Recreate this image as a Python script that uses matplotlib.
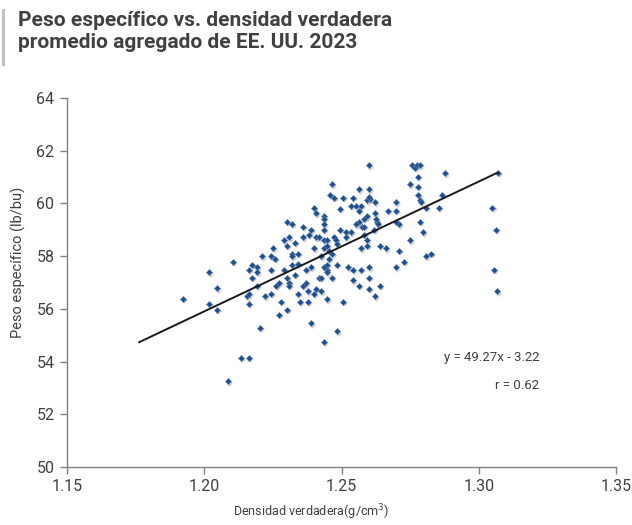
import matplotlib
matplotlib.use("Agg")
import matplotlib.pyplot as plt
from matplotlib.patches import Rectangle

FONT = ["Roboto", "DejaVu Sans"]
plt.rcParams["font.family"] = FONT

# True density (g/cm3) and test weight (lb/bu) for the 2023 aggregate samples
density = [
    1.1921, 1.2016, 1.2047, 1.2016, 1.2047, 1.2105, 1.2134, 1.2163, 1.2086, 1.2202,
    1.2154, 1.2163, 1.2163, 1.2192, 1.2163, 1.2173, 1.2192, 1.2192, 1.2173, 1.2211,
    1.2242, 1.2259, 1.2250, 1.2242, 1.2221, 1.2242, 1.2262, 1.2271, 1.2281, 1.2271,
    1.2600, 1.2466, 1.2457, 1.2473, 1.2505, 1.2543, 1.2564, 1.2600, 1.2593, 1.2605,
    1.2599, 1.2621, 1.2699, 1.2534, 1.2553, 1.2572, 1.2564, 1.2495, 1.2398, 1.2406,
    1.2668, 1.2699, 1.2621, 1.2593, 1.2583, 1.2435, 1.2435, 1.2435, 1.2435, 1.2302,
    1.2321, 1.2359, 1.2564, 1.2554, 1.2573, 1.2583, 1.2630, 1.2634, 1.2624, 1.2708,
    1.2699, 1.2388, 1.2495, 1.2515, 1.2534, 1.2380, 1.2581, 1.2619, 1.2291, 1.2310,
    1.2329, 1.2302, 1.2359, 1.2406, 1.2417, 1.2435, 1.2446, 1.2473, 1.2480, 1.2484,
    1.2515, 1.2593, 1.2593, 1.2571, 1.2641, 1.2661, 1.2398, 1.2435, 1.2446, 1.2455,
    1.2321, 1.2321, 1.2340, 1.2425, 1.2455, 1.2465, 1.2708, 1.2291, 1.2321, 1.2340,
    1.2369, 1.2388, 1.2435, 1.2446, 1.2446, 1.2446, 1.2484, 1.2524, 1.2543, 1.2571,
    1.2600, 1.2699, 1.2329, 1.2302, 1.2310, 1.2310, 1.2417, 1.2425, 1.2465, 1.2543,
    1.2600, 1.2359, 1.2369, 1.2406, 1.2378, 1.2398, 1.2425, 1.2340, 1.2564, 1.2600,
    1.2641, 1.2621, 1.2446, 1.2348, 1.2378, 1.2505, 1.2300, 1.2388, 1.2484, 1.2435,
    1.2756, 1.2766, 1.2776, 1.2786, 1.2876, 1.3070, 1.2777, 1.2748, 1.2777, 1.2777,
    1.2786, 1.2790, 1.2865, 1.2807, 1.2855, 1.3050, 1.2786, 1.2796, 1.3062, 1.2748,
    1.2807, 1.2826, 1.2729, 1.3055, 1.3066,
]
test_weight = [
    56.38, 57.39, 56.78, 56.18, 55.96, 57.79, 54.15, 54.15, 53.25, 55.28,
    56.48, 56.57, 56.18, 56.87, 57.49, 57.68, 57.58, 57.39, 57.18, 57.99,
    57.99, 57.89, 58.30, 57.49, 56.48, 56.57, 56.87, 56.98, 56.27, 55.77,
    61.44, 60.72, 60.33, 60.21, 60.21, 60.21, 60.53, 60.53, 60.12, 60.15,
    60.23, 60.04, 60.04, 59.92, 59.92, 59.92, 59.71, 59.80, 59.82, 59.62,
    59.71, 59.71, 59.62, 59.51, 59.41, 59.51, 59.41, 59.21, 59.00, 59.31,
    59.21, 59.10, 59.31, 59.21, 59.10, 59.10, 59.31, 59.21, 59.42, 59.21,
    59.31, 59.00, 59.00, 58.90, 58.90, 58.80, 58.80, 59.00, 58.60, 58.71,
    58.50, 58.40, 58.71, 58.71, 58.71, 58.60, 58.60, 58.71, 58.60, 58.47,
    58.71, 58.60, 58.40, 58.30, 58.40, 58.30, 58.30, 58.30, 58.40, 58.19,
    58.09, 57.99, 58.09, 57.99, 57.89, 58.09, 58.19, 57.49, 57.68, 57.71,
    57.49, 57.58, 57.58, 57.68, 57.49, 57.39, 57.68, 57.58, 57.49, 57.49,
    57.58, 57.58, 57.28, 57.18, 56.98, 56.87, 57.18, 57.18, 57.18, 57.08,
    57.18, 56.87, 56.98, 56.77, 56.67, 56.57, 56.67, 56.57, 56.87, 56.77,
    56.87, 56.47, 56.36, 56.27, 56.27, 56.27, 55.96, 55.45, 55.15, 54.75,
    61.44, 61.34, 61.44, 61.44, 61.14, 61.16, 61.02, 60.72, 60.63, 60.32,
    60.12, 60.06, 60.33, 59.82, 59.82, 59.82, 59.31, 58.90, 59.00, 58.60,
    57.99, 58.09, 57.79, 57.49, 56.67,
]

# Linear fit reported on the chart
slope = 49.27
intercept = -3.22
r_value = 0.62
fit_range = [1.1763, 1.3070]

x_ticks = [1.15, 1.20, 1.25, 1.30, 1.35]
y_ticks = [50, 52, 54, 56, 58, 60, 62, 64]

title = "Peso específico vs. densidad verdadera\npromedio agregado de EE. UU. 2023"
x_label = "Densidad verdadera(g/cm$^{3}$)"
y_label = "Peso específico (lb/bu)"

TEXT = "#404040"
AXIS = "#808080"
MARK = "#1f4e89"

fig = plt.figure(figsize=(6.32, 5.25), dpi=100)
ax = fig.add_axes([0.1060, 0.1105, 0.8687, 0.7028])

# faint shadow under each marker, then the marker itself
ax.scatter([d + 0.0004 for d in density], [w - 0.05 for w in test_weight],
           s=12, marker="D", color="#b8b8b8", alpha=0.6, linewidths=0, zorder=2)
ax.scatter(density, test_weight, s=10, marker="D", color=MARK,
           edgecolors="#5f86b8", linewidths=0.4, zorder=3)

fit_y = [slope * x + intercept for x in fit_range]
ax.plot(fit_range, fit_y, color="#1a1a1a", lw=1.4, zorder=4)

ax.text(1.322, 54.15, f"y = {slope:.2f}x - {abs(intercept):.2f}",
        ha="right", va="center", fontsize=9.5, color=TEXT)
ax.text(1.322, 53.08, f"r = {r_value:.2f}",
        ha="right", va="center", fontsize=9.5, color=TEXT)

ax.set_xlim(x_ticks[0], x_ticks[-1])
ax.set_ylim(y_ticks[0], y_ticks[-1])
ax.set_xticks(x_ticks)
ax.set_xticklabels([f"{t:.2f}" for t in x_ticks])
ax.set_yticks(y_ticks)
ax.set_yticklabels([str(t) for t in y_ticks])

for side in ("top", "right"):
    ax.spines[side].set_visible(False)
for side in ("left", "bottom"):
    ax.spines[side].set_color(AXIS)
    ax.spines[side].set_linewidth(1.0)
ax.tick_params(axis="both", direction="out", length=5, width=1.0, color=AXIS,
               labelsize=11.5, labelcolor=TEXT, pad=4)

fig.text(0.492, 0.0248, x_label, ha="center", va="center", fontsize=9, color=TEXT)
fig.text(0.0285, 0.501, y_label, ha="center", va="center", rotation=90,
         fontsize=10.5, color=TEXT)

fig.text(0.0285, 0.979, title, ha="left", va="top", fontsize=15,
         fontweight="bold", color=TEXT, linespacing=1.2)
fig.add_artist(Rectangle((0.003, 0.874), 0.005, 0.108, transform=fig.transFigure,
                         facecolor="#c0c0c0", edgecolor="none"))

fig.savefig("out.png", dpi=100)
